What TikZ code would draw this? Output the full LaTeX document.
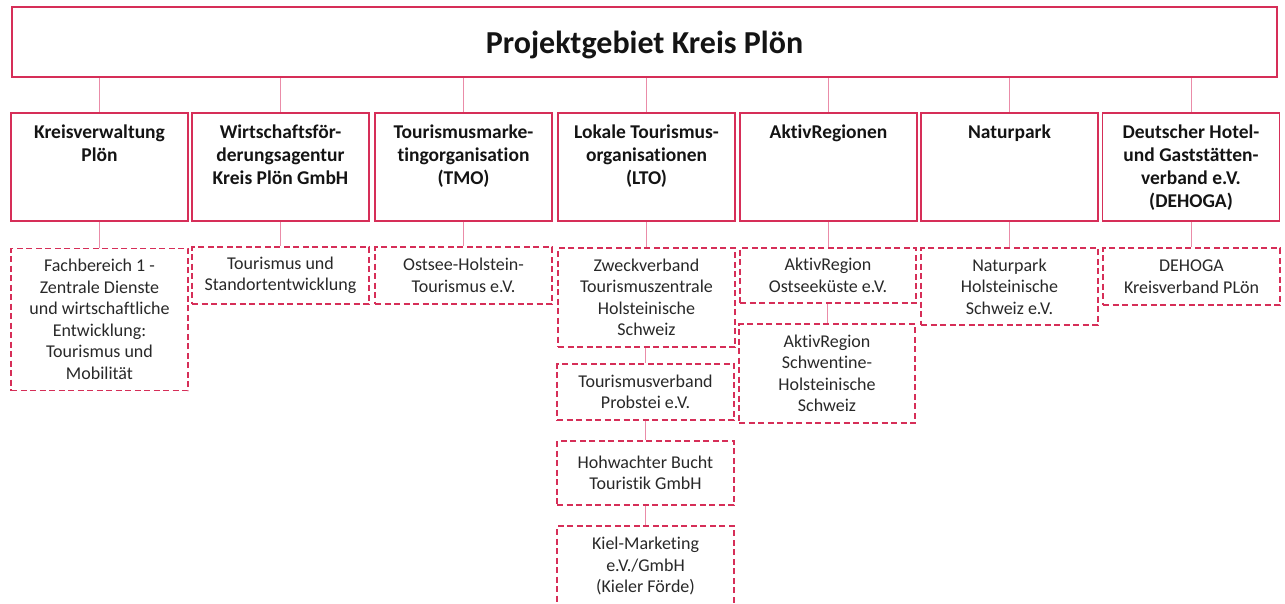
\documentclass[tikz,border=0pt]{standalone}
\usepackage{fontspec}
\setmainfont{Carlito}[Ligatures=NoCommon]
\definecolor{frame}{RGB}{214,46,88}
\definecolor{link}{RGB}{234,140,168}
\definecolor{ink}{RGB}{20,20,20}
\definecolor{subink}{RGB}{40,40,40}
\begin{document}
\begin{tikzpicture}[x=1pt,y=-1pt,
  titlebox/.style={draw=frame,line width=1.5pt,minimum width=1265pt,minimum height=70pt,inner sep=0pt,text depth=0pt,font=\fontsize{32}{38}\selectfont\bfseries,text=ink},
  orgbox/.style={draw=frame,line width=1.5pt,minimum width=177pt,minimum height=108pt,inner sep=0pt},
  orgtext/.style={anchor=north,inner sep=0pt,align=center,text=ink,font=\fontsize{19.5}{23}\selectfont\bfseries},
  subbox/.style={draw=frame,line width=1.8pt,dash pattern=on 6pt off 3.5pt,minimum width=177pt,inner sep=0pt,align=center,text=subink,font=\fontsize{18}{21.5}\selectfont},
  conn/.style={draw=link,line width=1pt}]
\useasboundingbox (0,0) rectangle (1285,603);
\clip (0,0) rectangle (1285,603);
\node[titlebox] (title) at (644.5,42) {Projektgebiet Kreis Plön};
% level 2
\node[orgbox] (b1) at (99.5,167) {};
\node[orgbox] (b2) at (280.5,167) {};
\node[orgbox] (b3) at (463.5,167) {};
\node[orgbox] (b4) at (646.5,167) {};
\node[orgbox] (b5) at (828.5,167) {};
\node[orgbox] (b6) at (1009.5,167) {};
\node[orgbox] (b7) at (1191,167) {};
\node[orgtext] (t1) at (99.5,124.5) {Kreisverwaltung\\Plön};
\node[orgtext] (t2) at (280.5,124.5) {Wirtschaftsför-\\derungsagentur\\Kreis Plön GmbH};
\node[orgtext] (t3) at (463.5,124.5) {Tourismusmarke-\\tingorganisation\\(TMO)};
\node[orgtext] (t4) at (646.5,124.5) {Lokale Tourismus-\\organisationen\\(LTO)};
\node[orgtext] (t5) at (828.5,124.5) {AktivRegionen};
\node[orgtext] (t6) at (1009.5,124.5) {Naturpark};
\node[orgtext] (t7) at (1191,124.5) {Deutscher Hotel-\\und Gaststätten-\\verband e.V.\\(DEHOGA)};
% level 3
\node[subbox,minimum height=142pt] (c1) at (99.5,319.5) {Fachbereich 1 -\\Zentrale Dienste\\und wirtschaftliche\\Entwicklung:\\Tourismus und\\Mobilität};
\node[subbox,minimum height=57pt] (c2) at (280.5,275.5) {Tourismus und\\Standortentwicklung};
\node[subbox,minimum height=57pt] (c3) at (463.5,275.5) {Ostsee-Holstein-\\Tourismus e.V.};
\node[subbox,minimum height=99pt] (c4a) at (646.5,297.5) {Zweckverband\\Tourismuszentrale\\Holsteinische\\Schweiz};
\node[subbox,minimum height=56pt] (c4b) at (645.5,392) {Tourismusverband\\Probstei e.V.};
\node[subbox,minimum height=64pt] (c4c) at (645.5,473) {Hohwachter Bucht\\Touristik GmbH};
\node[subbox,minimum height=80pt] (c4d) at (645.5,566) {Kiel-Marketing\\e.V./GmbH\\(Kieler Förde)};
\node[subbox,minimum height=55pt,minimum width=176pt] (c5a) at (828,275.5) {AktivRegion\\Ostseeküste e.V.};
\node[subbox,minimum height=99pt,minimum width=176pt] (c5b) at (827,373.5) {AktivRegion\\Schwentine-\\Holsteinische\\Schweiz};
\node[subbox,minimum height=77pt] (c6) at (1009.5,286.5) {Naturpark\\Holsteinische\\Schweiz e.V.};
\node[subbox,minimum height=57pt] (c7) at (1191.5,276.5) {DEHOGA\\Kreisverband PLön};
% connectors
\foreach \b in {b1,b2,b3,b4,b5,b6,b7}
  \draw[conn] (title.south -| \b.north) -- (\b.north);
\draw[conn] (b1.south) -- (b1.south |- c1.north);
\draw[conn] (b2.south) -- (b2.south |- c2.north);
\draw[conn] (b3.south) -- (b3.south |- c3.north);
\draw[conn] (b4.south) -- (b4.south |- c4a.north);
\draw[conn] (b5.south) -- (b5.south |- c5a.north);
\draw[conn] (b6.south) -- (b6.south |- c6.north);
\draw[conn] (b7.south) -- (b7.south |- c7.north);
\draw[conn] (c4a.south -| c4b.north) -- (c4b.north);
\draw[conn] (c4b.south) -- (c4c.north);
\draw[conn] (c4c.south) -- (c4d.north);
\draw[conn] (c5a.south -| c5b.north) -- (c5b.north);
\end{tikzpicture}
\end{document}
